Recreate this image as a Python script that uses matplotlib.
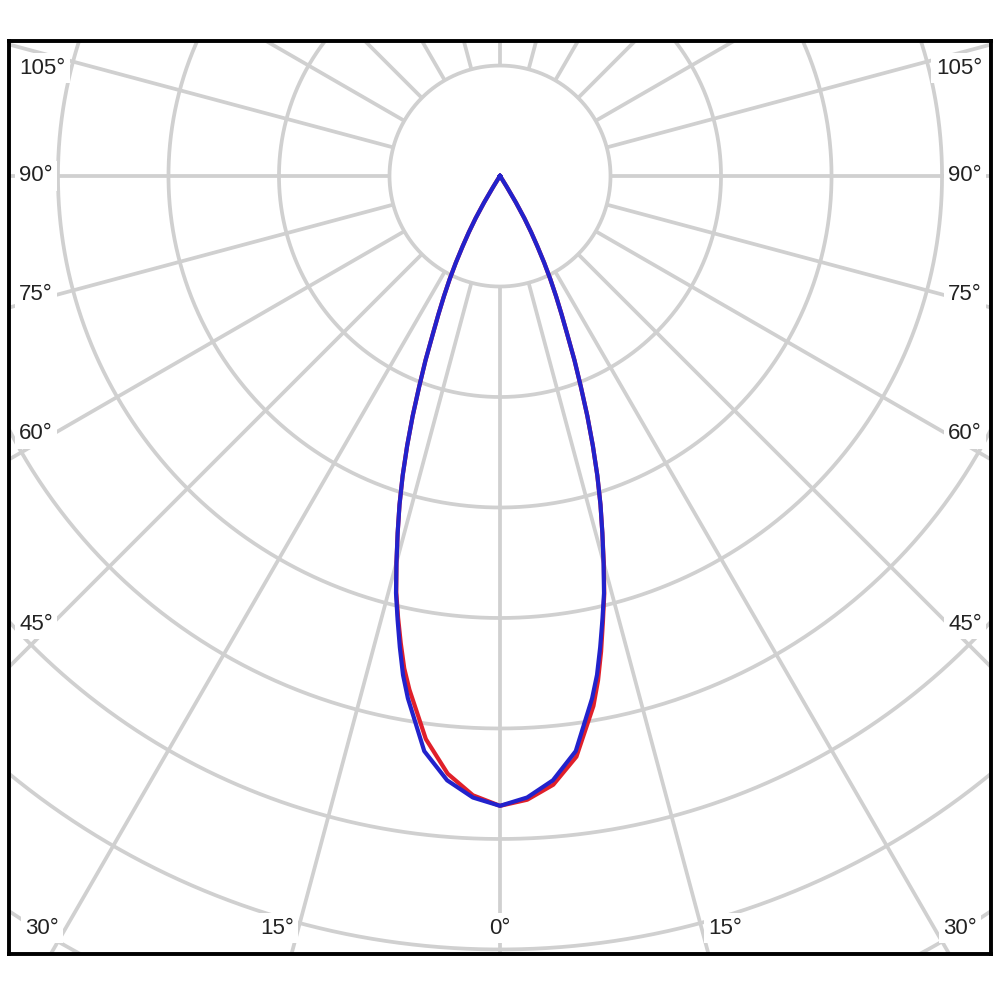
import numpy as np
import matplotlib
matplotlib.use('Agg')
import matplotlib.pyplot as plt

# gamma angles (deg from nadir) and intensities (1 grid ring = 100)
gamma = [0, 2.5, 5, 7.5, 10, 11, 12, 13, 14, 15, 16, 17, 18, 19, 20, 21,
         22, 23, 24, 25, 26, 27, 28, 29, 30, 31, 32, 33, 34, 35, 40, 45,
         60, 90, 120, 150, 180]
# C90-270 plane (blue), symmetric
blue = [570, 563, 549, 525, 480, 460, 436, 412, 389, 362, 336, 311, 285,
        258, 231, 204, 180, 156, 137, 120, 104, 88, 72, 58, 44, 28, 12, 4,
        1, 0, 0, 0, 0, 0, 0, 0, 0]
# C0-180 plane (red), left half and right half
red_left = [570, 561, 543, 514, 472, 454, 432, 410, 388, 362, 336, 311, 285,
            258, 231, 204, 180, 156, 137, 120, 104, 88, 72, 58, 44, 28, 12,
            4, 1, 0, 0, 0, 0, 0, 0, 0, 0]
red_right = [570, 565, 553, 530, 487, 465, 440, 414, 390, 363, 336, 311, 285,
             258, 231, 204, 180, 156, 137, 120, 104, 88, 72, 58, 44, 28, 12,
             4, 1, 0, 0, 0, 0, 0, 0, 0, 0]

rings = [100, 200, 300, 400, 500, 600, 700, 800, 900]
spoke_step = 15

# label text and pixel position (x, y) in the 1000x1000 picture
labels = [
    ('0°', 500, 928, 'center'),
    ('15°', 277, 928, 'center'), ('15°', 725, 928, 'center'),
    ('30°', 42, 928, 'center'), ('30°', 960, 928, 'center'),
    ('45°', 19, 624, 'left'), ('45°', 982, 624, 'right'),
    ('60°', 19, 434, 'left'), ('60°', 982, 434, 'right'),
    ('75°', 19, 295, 'left'), ('75°', 982, 295, 'right'),
    ('90°', 19, 176, 'left'), ('90°', 982, 176, 'right'),
    ('105°', 19, 68, 'left'), ('105°', 982, 68, 'right'),
]

grid_col = '#d0d0d0'


def to_xy(angles, values, side):
    a = np.radians(np.array(angles, dtype=float))
    r = np.array(values, dtype=float)
    return side * r * np.sin(a), -r * np.cos(a)


def lobe(left_vals, right_vals):
    xl, yl = to_xy(gamma, left_vals, -1)
    xr, yr = to_xy(gamma, right_vals, 1)
    x = np.concatenate([xl[::-1], xr[1:]])
    y = np.concatenate([yl[::-1], yr[1:]])
    return x, y


fig = plt.figure(figsize=(10, 10), dpi=100)
ax = fig.add_axes([0.009, 0.046, 0.982, 0.913])
ax.set_xlim(-444.3, 444.3)
ax.set_ylim(-704.1, 122.2)
ax.set_xticks([])
ax.set_yticks([])
for s in ax.spines.values():
    s.set_linewidth(2.8)
    s.set_color('black')
    s.set_zorder(10)

# rings
t = np.linspace(0, 2 * np.pi, 1441)
for r in rings:
    ax.plot(r * np.cos(t), r * np.sin(t), color=grid_col, lw=2.7,
            solid_capstyle='butt', zorder=1)

# spokes, starting on the inner ring
for a in np.arange(0, 360, spoke_step):
    ar = np.radians(a)
    ax.plot([rings[0] * np.sin(ar), 1200 * np.sin(ar)],
            [-rings[0] * np.cos(ar), -1200 * np.cos(ar)],
            color=grid_col, lw=2.7, solid_capstyle='butt', zorder=1)

# intensity curves
xr, yr = lobe(red_left, red_right)
ax.plot(xr, yr, color='#e0202a', lw=3.0, zorder=4, solid_joinstyle='round')
xb, yb = lobe(blue, blue)
ax.plot(xb, yb, color='#2222cc', lw=3.0, zorder=5, solid_joinstyle='round')

for txt, px, py, ha in labels:
    fig.text(px / 1000, 1 - py / 1000, txt, ha=ha, va='center',
             fontsize=16, family='Liberation Sans', color='#222222',
             bbox=dict(boxstyle='square,pad=0.2', fc='white', ec='none'),
             zorder=6)

plt.savefig('out.png', dpi=100)
